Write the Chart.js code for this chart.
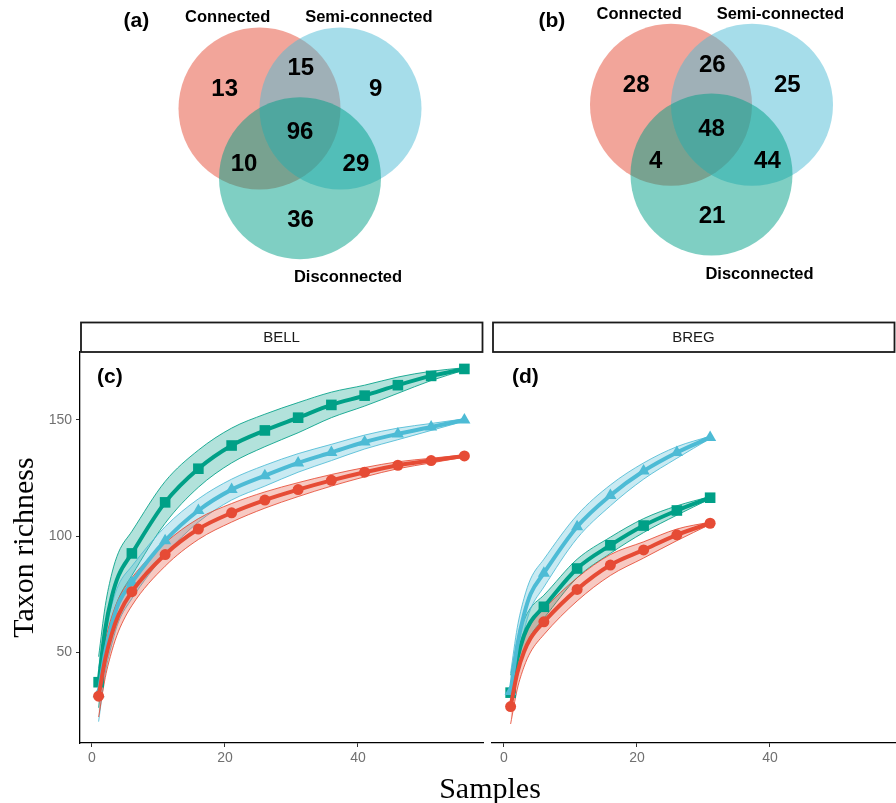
<!DOCTYPE html>
<html>
<head>
<meta charset="utf-8">
<script src="https://cdn.jsdelivr.net/npm/chart.js"></script>
<style>
	body { margin: 0; background: #fff; width: 896px; height: 803px; position: relative; overflow: hidden; }
	canvas { position: absolute; }
	#samples { position: absolute; left: 390px; width: 200px; top: 771px; line-height: 30px; text-align: center; font: 30px "Liberation Serif", "Times New Roman", serif; color: #000; }
</style>
</head>
<body>
<canvas id="vennA" width="448" height="300" style="left:0;top:0"></canvas>
<canvas id="vennB" width="448" height="300" style="left:448px;top:0"></canvas>
<canvas id="bell" width="486" height="503" style="left:0;top:300px"></canvas>
<canvas id="breg" width="410" height="503" style="left:486px;top:300px"></canvas>
<div id="samples">Samples</div>
<script>
// ---- Venn data (a) / (b)
const vennSets = ['Connected', 'Semi-connected', 'Disconnected'];
const vennColors = ['#E64B35', '#4DBBD5', '#00A087'];
// circle centres, in circle-radius units
const vennCircleX = [-0.5, 0.5, 0];
const vennCircleY = [0.29, 0.29, -0.57];
// regions: C only, C&S, S only, C&S&D, C&D, S&D, D only
const vennCountsA = [13, 15, 9, 96, 10, 29, 36];
const vennCountsB = [28, 26, 25, 48, 4, 44, 21];

// ---- rarefaction curves (c) BELL / (d) BREG
const markerSamples = [1, 6, 11, 16, 21, 26, 31, 36, 41, 46, 51, 56];

const bellSamples = [1, 2, 3, 4, 6, 11, 16, 21, 26, 31, 36, 41, 46, 51, 56];
const bellConnected = [31, 47, 58, 66, 76, 92, 103, 110, 115.5, 120, 124, 127.5, 130.5, 132.5, 134.5];
const bellConnectedLo = [22, 39, 50.5, 59, 70, 87, 98.5, 106, 112, 117, 121.5, 125.5, 129, 131.5, 134];
const bellConnectedHi = [40, 55, 65.5, 73, 82, 97, 107.5, 114, 119, 123, 126.5, 129.5, 132, 133.5, 135];
const bellSemi = [32, 50, 62, 71, 80, 98, 111, 120, 126, 131.5, 136, 140.5, 144, 147, 150];
const bellSemiLo = [20, 41, 53.5, 63, 73, 92, 106, 115.5, 121.5, 127.5, 132.5, 137.5, 141.5, 145.5, 149.5];
const bellSemiHi = [43, 59, 70.5, 79, 87, 104, 116, 124.5, 130.5, 135.5, 139.5, 143.5, 146.5, 148.5, 150.5];
const bellDisc = [37, 60, 74, 83, 92.5, 114.5, 129, 139, 145.5, 151, 156.5, 160.5, 165, 169, 172];
const bellDiscLo = [26, 50, 64, 73, 83, 105.5, 121, 131.5, 138.5, 144.5, 151, 156, 161.5, 167, 171.5];
const bellDiscHi = [48, 70, 84, 93, 102, 123.5, 137, 146.5, 152.5, 157.5, 162, 165, 168.5, 171, 172.5];

const bregSamples = [1, 2, 3, 4, 6, 11, 16, 21, 26, 31];
const bregConnected = [26.5, 41, 50, 56, 63, 77, 87.5, 94, 100.5, 105.5];
const bregConnectedLo = [19, 34, 43.5, 50, 57.5, 72, 83, 90.5, 98, 105];
const bregConnectedHi = [34, 48, 56.5, 62, 68.5, 82, 92, 97.5, 103, 106];
const bregSemi = [33, 53, 66, 75, 84, 104, 117.5, 128, 136, 142.5];
const bregSemiLo = [25, 45.5, 59, 68.5, 78, 99, 113, 124.5, 133.5, 142];
const bregSemiHi = [41, 60.5, 73, 81.5, 90, 109, 122, 131.5, 138.5, 143];
const bregDisc = [32.5, 47, 57, 63, 69.5, 86, 96, 104.5, 111, 116.5];
const bregDiscLo = [25, 40, 50.5, 57, 64.5, 82, 92.5, 101.5, 109, 116];
const bregDiscHi = [40, 54, 63.5, 69, 74.5, 90, 99.5, 107.5, 113, 117];

const xTicks = [0, 20, 40];
const yTicks = [50, 100, 150];

const SANS = '"Liberation Sans", Arial, sans-serif';
const SERIF = '"Liberation Serif", "Times New Roman", serif';

function rgba(hex, a) {
	const n = parseInt(hex.slice(1), 16);
	return `rgba(${n >> 16}, ${(n >> 8) & 255}, ${n & 255}, ${a})`;
}

// label positions inside the venn, radius units
const regionPos = [[-0.93, 0.53], [0.01, 0.78], [0.935, 0.53], [0, -0.01], [-0.69, -0.405], [0.69, -0.405], [0.006, -1.09]];
const setLabelPos = [[-0.892, 1.41], [0.85, 1.41], [0.593, -1.80]];

const vennText = {
	id: 'vennText',
	afterDatasetsDraw(chart, args, opts) {
		const {ctx, scales: {x, y}} = chart;
		ctx.save();
		ctx.fillStyle = '#000';
		ctx.textAlign = 'center';
		ctx.textBaseline = 'middle';
		ctx.font = 'bold 24px ' + SANS;
		opts.counts.forEach((n, i) => {
			ctx.fillText(String(n), x.getPixelForValue(regionPos[i][0]), y.getPixelForValue(regionPos[i][1]));
		});
		ctx.font = 'bold 16.5px ' + SANS;
		vennSets.forEach((s, i) => {
			ctx.fillText(s, x.getPixelForValue(setLabelPos[i][0]), y.getPixelForValue(setLabelPos[i][1]));
		});
		ctx.font = 'bold 21px ' + SANS;
		ctx.fillText(opts.tag, x.getPixelForValue(opts.tagPos[0]), y.getPixelForValue(opts.tagPos[1]));
		ctx.restore();
	}
};

// one radius unit = 81px on both axes
const VENN_UNIT = 81;

function venn_chart(id, counts, tag, tagPos, cx, cy) {
	const place = document.getElementById(id).getContext('2d');
	const w = place.canvas.width, h = place.canvas.height;
	new Chart(place, {
		type: 'scatter',
		data: {
			datasets: [{
				data: vennCircleX.map((v, i) => ({x: v, y: vennCircleY[i]})),
				backgroundColor: vennColors.map(c => rgba(c, 0.5)),
				borderWidth: 0,
				pointRadius: VENN_UNIT,
				pointStyle: 'circle',
			}]
		},
		options: {
			responsive: false,
			animation: false,
			events: [],
			layout: {padding: 0, autoPadding: false},
			scales: {
				x: {type: 'linear', display: false, min: -cx / VENN_UNIT, max: (w - cx) / VENN_UNIT},
				y: {type: 'linear', display: false, min: -(h - cy) / VENN_UNIT, max: cy / VENN_UNIT},
			},
			plugins: {
				legend: {display: false},
				tooltip: {enabled: false},
				vennText: {counts: counts, tag: tag, tagPos: tagPos},
			}
		},
		plugins: [vennText]
	});
}

venn_chart('vennA', vennCountsA, '(a)', [-2.02, 1.37], 300, 132);
venn_chart('vennB', vennCountsB, '(b)', [-1.97, 1.325], 263.5, 128.3);

//!------------------------------------------------------------------

const facetStrip = {
	id: 'facetStrip',
	afterDraw(chart, args, opts) {
		const {ctx, chartArea: a} = chart;
		ctx.save();
		ctx.fillStyle = '#fff';
		ctx.strokeStyle = '#1a1a1a';
		ctx.lineWidth = 1.8;
		ctx.fillRect(a.left + 1, 22.5, a.right - a.left - 1.5, 29.5);
		ctx.strokeRect(a.left + 1, 22.5, a.right - a.left - 1.5, 29.5);
		ctx.fillStyle = '#1a1a1a';
		ctx.font = '15px ' + SANS;
		ctx.textAlign = 'center';
		ctx.textBaseline = 'middle';
		ctx.fillText(opts.label, (a.left + a.right) / 2, 37.5);
		ctx.fillStyle = '#000';
		ctx.font = 'bold 21px ' + SANS;
		ctx.textAlign = 'left';
		ctx.fillText(opts.tag, a.left + opts.tagX, a.top + 25);
		ctx.restore();
	}
};

function rarefaction_chart(id, samples, series, strip, yAxis, padding) {
	const place = document.getElementById(id).getContext('2d');
	const pts = (arr) => arr.map((v, i) => ({x: samples[i], y: v}));
	const lines = series.map(s => ({
		data: pts(s.mid),
		borderColor: s.color,
		backgroundColor: s.color,
		borderWidth: 4,
		pointStyle: s.style,
		pointRadius: (c) => (c.raw && markerSamples.includes(c.raw.x)) ? s.radius : 0,
		pointBorderWidth: 0,
		cubicInterpolationMode: 'monotone',
		fill: false,
	}));
	const bands = [];
	series.forEach(s => {
		bands.push({
			data: pts(s.lo),
			borderColor: rgba(s.color, 0.85),
			borderWidth: 1,
			pointRadius: 0,
			cubicInterpolationMode: 'monotone',
			fill: false,
		});
		bands.push({
			data: pts(s.hi),
			borderColor: rgba(s.color, 0.85),
			borderWidth: 1,
			pointRadius: 0,
			cubicInterpolationMode: 'monotone',
			fill: '-1',
			backgroundColor: rgba(s.color, 0.3),
		});
	});

	const tickFont = {family: SANS, size: 14};
	new Chart(place, {
		type: 'line',
		data: {datasets: lines.concat(bands)},
		options: {
			responsive: false,
			animation: false,
			events: [],
			layout: {padding: padding, autoPadding: false},
			scales: {
				x: {
					type: 'linear',
					min: -1.8,
					max: 58.8,
					afterBuildTicks: (s) => { s.ticks = xTicks.map(v => ({value: v})); },
					afterFit: (s) => { s.height = 60; },
					border: {display: true, color: '#000', width: 1.3},
					grid: {drawOnChartArea: false, drawTicks: true, tickLength: 4, color: '#333'},
					ticks: {color: '#707070', font: tickFont, padding: 3, maxRotation: 0},
				},
				y: Object.assign({
					min: 10.8,
					max: 179.3,
					afterBuildTicks: (s) => { s.ticks = yTicks.map(v => ({value: v})); },
				}, yAxis),
			},
			plugins: {
				legend: {display: false},
				tooltip: {enabled: false},
				facetStrip: strip,
			}
		},
		plugins: [facetStrip]
	});
}

const colConnected = '#E64B35', colSemi = '#4DBBD5', colDisc = '#00A087';

rarefaction_chart('bell', bellSamples, [
	{color: colConnected, style: 'circle', radius: 5.5, mid: bellConnected, lo: bellConnectedLo, hi: bellConnectedHi},
	{color: colSemi, style: 'triangle', radius: 7, mid: bellSemi, lo: bellSemiLo, hi: bellSemiHi},
	{color: colDisc, style: 'rect', radius: 7.5, mid: bellDisc, lo: bellDiscLo, hi: bellDiscHi},
], {label: 'BELL', tag: '(c)', tagX: 17}, {
	afterFit: (s) => { s.width = 80; },
	border: {display: true, color: '#000', width: 1.3},
	grid: {drawOnChartArea: false, drawTicks: true, tickLength: 4, color: '#333'},
	ticks: {color: '#707070', font: {family: SANS, size: 14}, padding: 4},
	title: {display: true, text: 'Taxon richness', color: '#000', font: {family: SERIF, size: 30}, padding: {top: 7, bottom: 0}},
}, {top: 52, right: 3, left: 0, bottom: 0});

rarefaction_chart('breg', bregSamples, [
	{color: colConnected, style: 'circle', radius: 5.5, mid: bregConnected, lo: bregConnectedLo, hi: bregConnectedHi},
	{color: colSemi, style: 'triangle', radius: 7, mid: bregSemi, lo: bregSemiLo, hi: bregSemiHi},
	{color: colDisc, style: 'rect', radius: 7.5, mid: bregDisc, lo: bregDiscLo, hi: bregDiscHi},
], {label: 'BREG', tag: '(d)', tagX: 20}, {
	display: false,
}, {top: 52, right: 1, left: 6, bottom: 0});
</script>
</body>
</html>
